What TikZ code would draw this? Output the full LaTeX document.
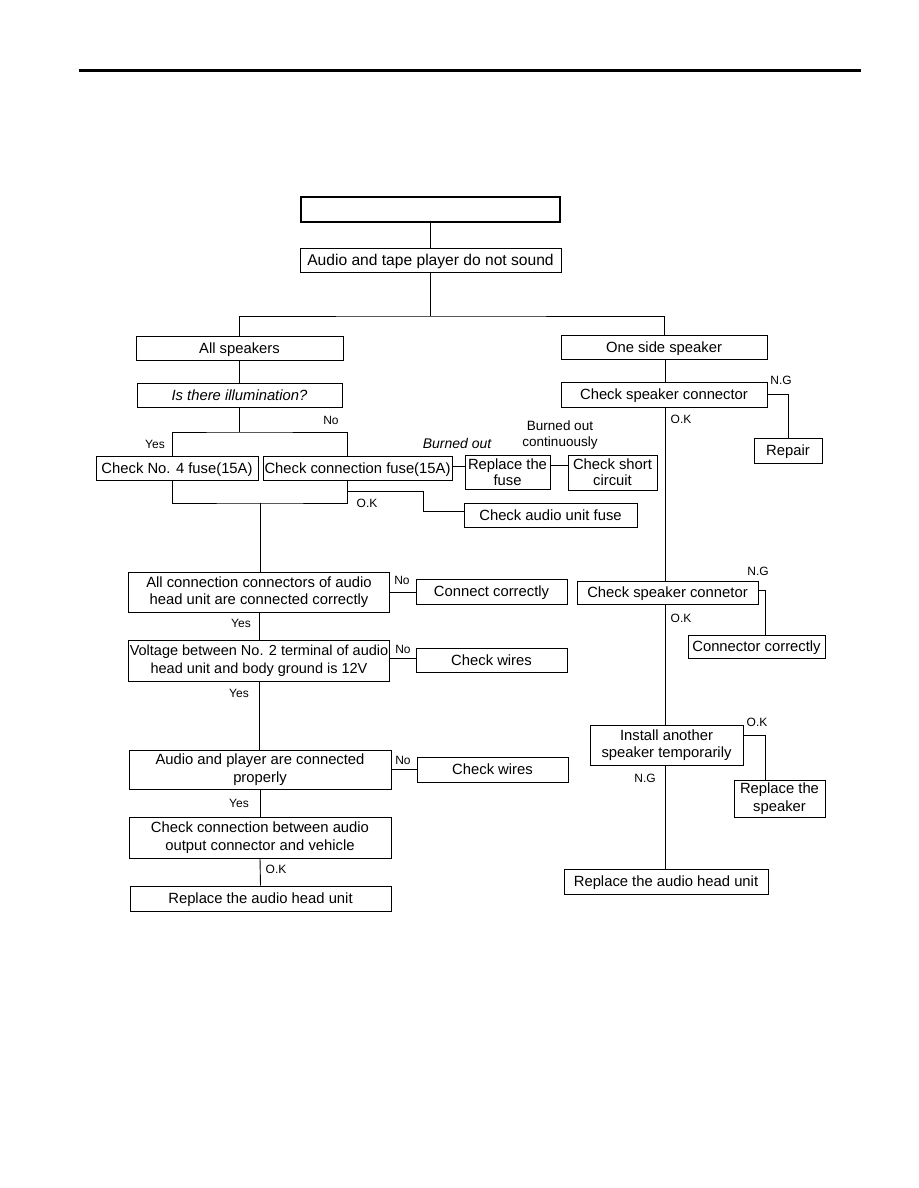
\documentclass[tikz,border=0pt]{standalone}
\usepackage{fontspec}
\setmainfont{Liberation Sans}
\usetikzlibrary{calc}
\begin{document}
\begin{tikzpicture}[x=1pt,y=-1pt,
  box/.style={draw, line width=0.9pt, inner sep=0pt, align=center, font=\fontsize{14.8}{17.5}\selectfont},
  one/.style={box, text height=10.5pt, text depth=0pt},
  two/.style={box, yshift=-1.5pt},
  titlebox/.style={draw, line width=2.2pt, inner sep=0pt},
  lbl/.style={font=\fontsize{12}{14}\selectfont, inner sep=0pt},
  ital/.style={font=\fontsize{14}{16}\selectfont\itshape, inner sep=0pt},
  lbltwo/.style={font=\fontsize{13.5}{15.5}\selectfont, inner sep=0pt, align=center},
  conn/.style={line width=0.9pt}]
\useasboundingbox (0,0) rectangle (918,1188);
\fill[white] (0,0) rectangle (918,1188);
% top rule
\coordinate (rl) at (79,71);
\coordinate (rr) at (861,71);
\draw[line width=3pt] (rl) -- (rr);
% boxes
\node[titlebox, minimum width=259, minimum height=25] (title) at (430.5,209.5) {};
\node[one, minimum width=261, minimum height=24, font=\fontsize{15.6}{18}\selectfont] (sound) at (430.5,260) {Audio and tape player do not sound};
\node[one, minimum width=207, minimum height=24] (all) at (239.5,348) {All speakers};
\node[one, minimum width=206, minimum height=24] (one) at (664,347) {One side speaker};
\node[one, minimum width=205, minimum height=24] (illum) at (239.5,395) {\itshape Is there illumination?};
\node[one, minimum width=162, minimum height=24] (fuse4) at (177,468) {Check No. 4 fuse(15A)};
\node[one, minimum width=189, minimum height=24] (cfuse) at (357.5,468) {Check connection fuse(15A)};
\node[box, minimum width=85, minimum height=34, font=\fontsize{14.8}{16}\selectfont] (repl) at (507.5,472) {Replace the\\fuse};
\node[box, minimum width=89, minimum height=35, font=\fontsize{14.8}{16}\selectfont] (short) at (612.5,472.5) {Check short\\circuit};
\node[one, minimum width=173, minimum height=24] (aufuse) at (550.5,515) {Check audio unit fuse};
\node[one, minimum width=206, minimum height=25] (spk) at (664,394.5) {Check speaker connector};
\node[one, minimum width=68, minimum height=25] (repair) at (788,450.5) {Repair};
\node[one, minimum width=181, minimum height=23] (spk2) at (667.5,592.5) {Check speaker connetor};
\node[one, minimum width=137, minimum height=23] (concor) at (756.5,646.5) {Connector correctly};
\node[box, minimum width=153, minimum height=40] (install) at (666.5,745) {Install another\\speaker temporarily};
\node[box, minimum width=91, minimum height=37] (rspk) at (779.5,798.5) {Replace the\\speaker};
\node[one, minimum width=204, minimum height=25] (rhead2) at (666,881.5) {Replace the audio head unit};
\node[box, minimum width=261, minimum height=40] (allconn) at (259,592) {All connection connectors of audio\\head unit are connected correctly};
\node[one, minimum width=151, minimum height=25] (cc) at (491.5,591.5) {Connect correctly};
\node[box, minimum width=261, minimum height=41, font=\fontsize{14.5}{17.5}\selectfont] (volt) at (259,660.5) {Voltage between No. 2 terminal of audio\\head unit and body ground is 12V};
\node[one, minimum width=151, minimum height=24] (wires1) at (491.5,660) {Check wires};
\node[box, minimum width=262, minimum height=39] (audplay) at (260,769.5) {Audio and player are connected\\properly};
\node[one, minimum width=151, minimum height=25] (wires2) at (492.5,769.5) {Check wires};
\node[box, minimum width=262, minimum height=41] (chk) at (260,837.5) {Check connection between audio\\output connector and vehicle};
\node[one, minimum width=261, minimum height=25] (rhead1) at (260.5,898.5) {Replace the audio head unit};
% connectors
\coordinate (j1) at (430.5,316);
\draw[conn] (title.south) -- (sound.north);
\draw[conn] (sound.south) -- (j1);
\draw[conn] (all.north) |- (j1) -| (one.north);
\draw[conn] (all.south) -- (illum.north);
\coordinate (j2) at (239.5,432);
\draw[conn] (illum.south) -- (j2);
\draw[conn] ([xshift=-5pt]fuse4.north) |- (j2) -| ([xshift=-10.5pt]cfuse.north);
\coordinate (j3) at (260,503);
\draw[conn] ([xshift=-5pt]fuse4.south) |- (j3) -| ([xshift=-10.5pt]cfuse.south);
\draw[conn] (j3) -- (j3 |- allconn.north);
\coordinate (j4) at (347,491);
\coordinate (j5) at (423,491);
\draw[conn] (j4) -- (j5) |- ([yshift=4pt]aufuse.west);
\draw[conn] ([yshift=2pt]cfuse.east) -- ([yshift=2pt]cfuse.east -| repl.west);
\draw[conn] ([yshift=6.5pt]repl.east) -- ([yshift=6.5pt]repl.east -| short.west);
\coordinate (rv) at (665,0);
\draw[conn] (one.south -| rv) -- (spk.north -| rv);
\draw[conn] (spk.east) -| (repair.north);
\draw[conn] (spk.south -| rv) -- (spk2.north -| rv);
\draw[conn] ([yshift=2.5pt]spk2.east) -| ([xshift=8.5pt]concor.north);
\draw[conn] (spk2.south -| rv) -- (install.north -| rv);
\draw[conn] ([yshift=10pt]install.east) -| ([xshift=-14.5pt]rspk.north);
\draw[conn] (install.south -| rv) -- (rhead2.north -| rv);
\draw[conn] (allconn.east) -- (allconn.east -| cc.west);
\draw[conn] (allconn.south) -- (volt.north);
\draw[conn] ([yshift=2.5pt]volt.east) -- ([yshift=2.5pt]volt.east -| wires1.west);
\draw[conn] (volt.south) -- (volt.south |- audplay.north);
\draw[conn] (audplay.east) -- (audplay.east -| wires2.west);
\draw[conn] (audplay.south) -- (chk.north);
\draw[conn] (chk.south) -- (rhead1.north);
% labels
\node[lbl] (l1) at (331,420) {No};
\node[lbl] (l2) at (155,444) {Yes};
\node[lbl] (l3) at (367,503) {O.K};
\node[ital] (l4) at (457,443) {Burned out};
\node[lbltwo] (l5) at (560,435) {Burned out\\continuously};
\node[lbl] (l6) at (781,380) {N.G};
\node[lbl] (l7) at (681,419) {O.K};
\node[lbl] (l8) at (758,571) {N.G};
\node[lbl] (l9) at (681,618) {O.K};
\node[lbl] (l10) at (757,722) {O.K};
\node[lbl] (l11) at (645,778) {N.G};
\node[lbl] (l12) at (402,580) {No};
\node[lbl] (l13) at (241,623) {Yes};
\node[lbl] (l14) at (403,649) {No};
\node[lbl] (l15) at (239,693) {Yes};
\node[lbl] (l16) at (403,760) {No};
\node[lbl] (l17) at (239,803) {Yes};
\node[lbl] (l18) at (276,869) {O.K};
\end{tikzpicture}
\end{document}
